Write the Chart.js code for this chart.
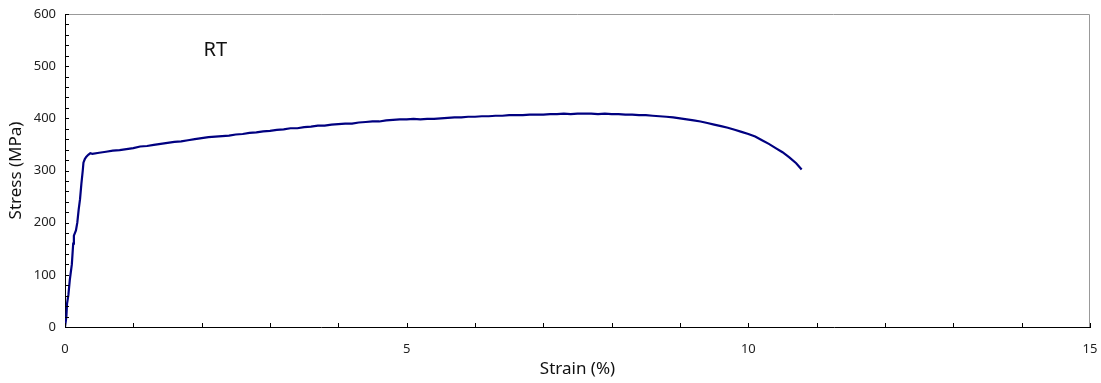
<!DOCTYPE html>
<html>
<head>
<meta charset="utf-8">
<script src="https://cdn.jsdelivr.net/npm/chart.js@4/dist/chart.umd.min.js"></script>
<style>
    html, body { margin: 0; padding: 0; background: #fff; overflow: hidden; }
    #wrap { width: 1101px; height: 383px; position: relative; }
</style>
</head>
<body>
<div id="wrap"><canvas id="chart"></canvas></div>
<script>
// Tensile curve, room temperature
const strain = [
    0, 0.02, 0.03, 0.05, 0.07, 0.1, 0.12, 0.13, 0.16, 0.18, 0.2, 0.22, 0.24, 0.26, 0.27, 0.29, 0.31, 0.34, 0.37,
    0.4, 0.5, 0.6, 0.7, 0.8, 0.9, 1.0, 1.1, 1.2, 1.3, 1.4, 1.5, 1.6, 1.7, 1.8, 1.9,
    2.0, 2.1, 2.2, 2.3, 2.4, 2.5, 2.6, 2.7, 2.8, 2.9, 3.0, 3.1, 3.2, 3.3, 3.4, 3.5, 3.6, 3.7, 3.8, 3.9,
    4.0, 4.1, 4.2, 4.3, 4.4, 4.5, 4.6, 4.7, 4.8, 4.9, 5.0, 5.1, 5.2, 5.3, 5.4, 5.5, 5.6, 5.7, 5.8, 5.9,
    6.0, 6.1, 6.2, 6.3, 6.4, 6.5, 6.6, 6.7, 6.8, 6.9, 7.0, 7.1, 7.2, 7.3, 7.4, 7.5, 7.6, 7.7, 7.8, 7.9,
    8.0, 8.1, 8.2, 8.3, 8.4, 8.5, 8.6, 8.7, 8.8, 8.9, 9.0, 9.1, 9.2, 9.3, 9.4, 9.5, 9.6, 9.7, 9.8, 9.9,
    10.0, 10.1, 10.2, 10.3, 10.4, 10.5, 10.6, 10.7, 10.78
];
const stress = [
    0, 20, 45, 62, 90, 120, 160, 175, 185, 200, 225, 245, 275, 300, 315, 322, 326, 330, 333,
    332, 334, 336, 338, 339, 341, 343, 346, 347, 349, 351, 353, 355, 356, 358, 360,
    362, 364, 365, 366, 367, 369, 370, 372, 373, 375, 376, 378, 379, 381, 381, 383, 384, 386, 386, 388,
    389, 390, 390, 392, 393, 394, 394, 396, 397, 398, 398, 399, 398, 399, 399, 400, 401, 402, 402, 403,
    403, 404, 404, 405, 405, 406, 406, 406, 407, 407, 407, 408, 408, 409, 408, 409, 409, 409, 408, 409,
    408, 408, 407, 407, 406, 406, 405, 404, 403, 402, 400, 398, 396, 394, 391, 388, 385, 382, 378, 374,
    370, 365, 358, 351, 343, 335, 325, 314, 302
];
const xTicks = [0, 5, 10, 15];
const yTicks = [0, 100, 200, 300, 400, 500, 600];
const xMinorStep = 1;
const yMinorStep = 20;
const seriesLabel = 'RT';

const FONT = '"Noto Sans", "DejaVu Sans", sans-serif';

const points = strain.map(function (s, i) { return { x: s, y: stress[i] }; });

// inward tick marks, grey top/right frame, and the "RT" note
const framePlugin = {
    id: 'frame',
    afterDraw: function (chart) {
        const ctx = chart.ctx;
        const a = chart.chartArea;
        const xs = chart.scales.x;
        const ys = chart.scales.y;
        ctx.save();
        ctx.strokeStyle = '#999';
        ctx.lineWidth = 1;
        ctx.beginPath();
        ctx.moveTo(a.left, a.top + 0.5);
        ctx.lineTo(a.right - 0.5, a.top + 0.5);
        ctx.lineTo(a.right - 0.5, a.bottom);
        ctx.stroke();

        ctx.strokeStyle = '#000';
        ctx.beginPath();
        for (let v = xs.min; v <= xs.max + 1e-9; v += xMinorStep) {
            const px = Math.round(xs.getPixelForValue(v)) + 0.5;
            ctx.moveTo(px, a.bottom);
            ctx.lineTo(px, a.bottom - 4);
        }
        for (let v = ys.min; v <= ys.max + 1e-9; v += yMinorStep) {
            const py = Math.round(ys.getPixelForValue(v)) + 0.5;
            ctx.moveTo(a.left, py);
            ctx.lineTo(a.left + 4, py);
        }
        ctx.stroke();

        ctx.fillStyle = '#111';
        ctx.font = '20px ' + FONT;
        ctx.textAlign = 'center';
        ctx.textBaseline = 'middle';
        ctx.fillText(seriesLabel, xs.getPixelForValue(2.2), ys.getPixelForValue(530));
        ctx.restore();
    }
};

new Chart(document.getElementById('chart'), {
    type: 'line',
    data: {
        datasets: [{
            label: seriesLabel,
            data: points,
            borderColor: '#000080',
            borderWidth: 2.2,
            pointRadius: 0,
            fill: false,
            tension: 0
        }]
    },
    options: {
        responsive: true,
        maintainAspectRatio: false,
        animation: false,
        layout: { padding: 0 },
        plugins: { legend: { display: false }, tooltip: { enabled: false } },
        scales: {
            x: {
                type: 'linear',
                min: 0,
                max: 15,
                afterBuildTicks: function (s) { s.ticks = xTicks.map(function (v) { return { value: v }; }); },
                afterFit: function (s) { s.height = 56; s.paddingLeft = 0; s.paddingRight = 11; },
                grid: { display: false, drawTicks: false },
                border: { display: true, color: '#000', width: 1 },
                ticks: { padding: 14, color: '#222', font: { family: FONT, size: 13 } },
                title: { display: true, text: 'Strain (%)', color: '#111', padding: { top: 2 }, font: { family: FONT, size: 17 } }
            },
            y: {
                min: 0,
                max: 600,
                afterBuildTicks: function (s) { s.ticks = yTicks.map(function (v) { return { value: v }; }); },
                afterFit: function (s) { s.width = 65; s.paddingTop = 14; s.paddingBottom = 0; },
                grid: { display: false, drawTicks: false },
                border: { display: true, color: '#000', width: 1 },
                ticks: { padding: 9, color: '#222', font: { family: FONT, size: 13 } },
                title: { display: true, text: 'Stress (MPa)', color: '#111', padding: { top: 6, bottom: 4 }, font: { family: FONT, size: 17 } }
            }
        }
    },
    plugins: [framePlugin]
});
</script>
</body>
</html>
